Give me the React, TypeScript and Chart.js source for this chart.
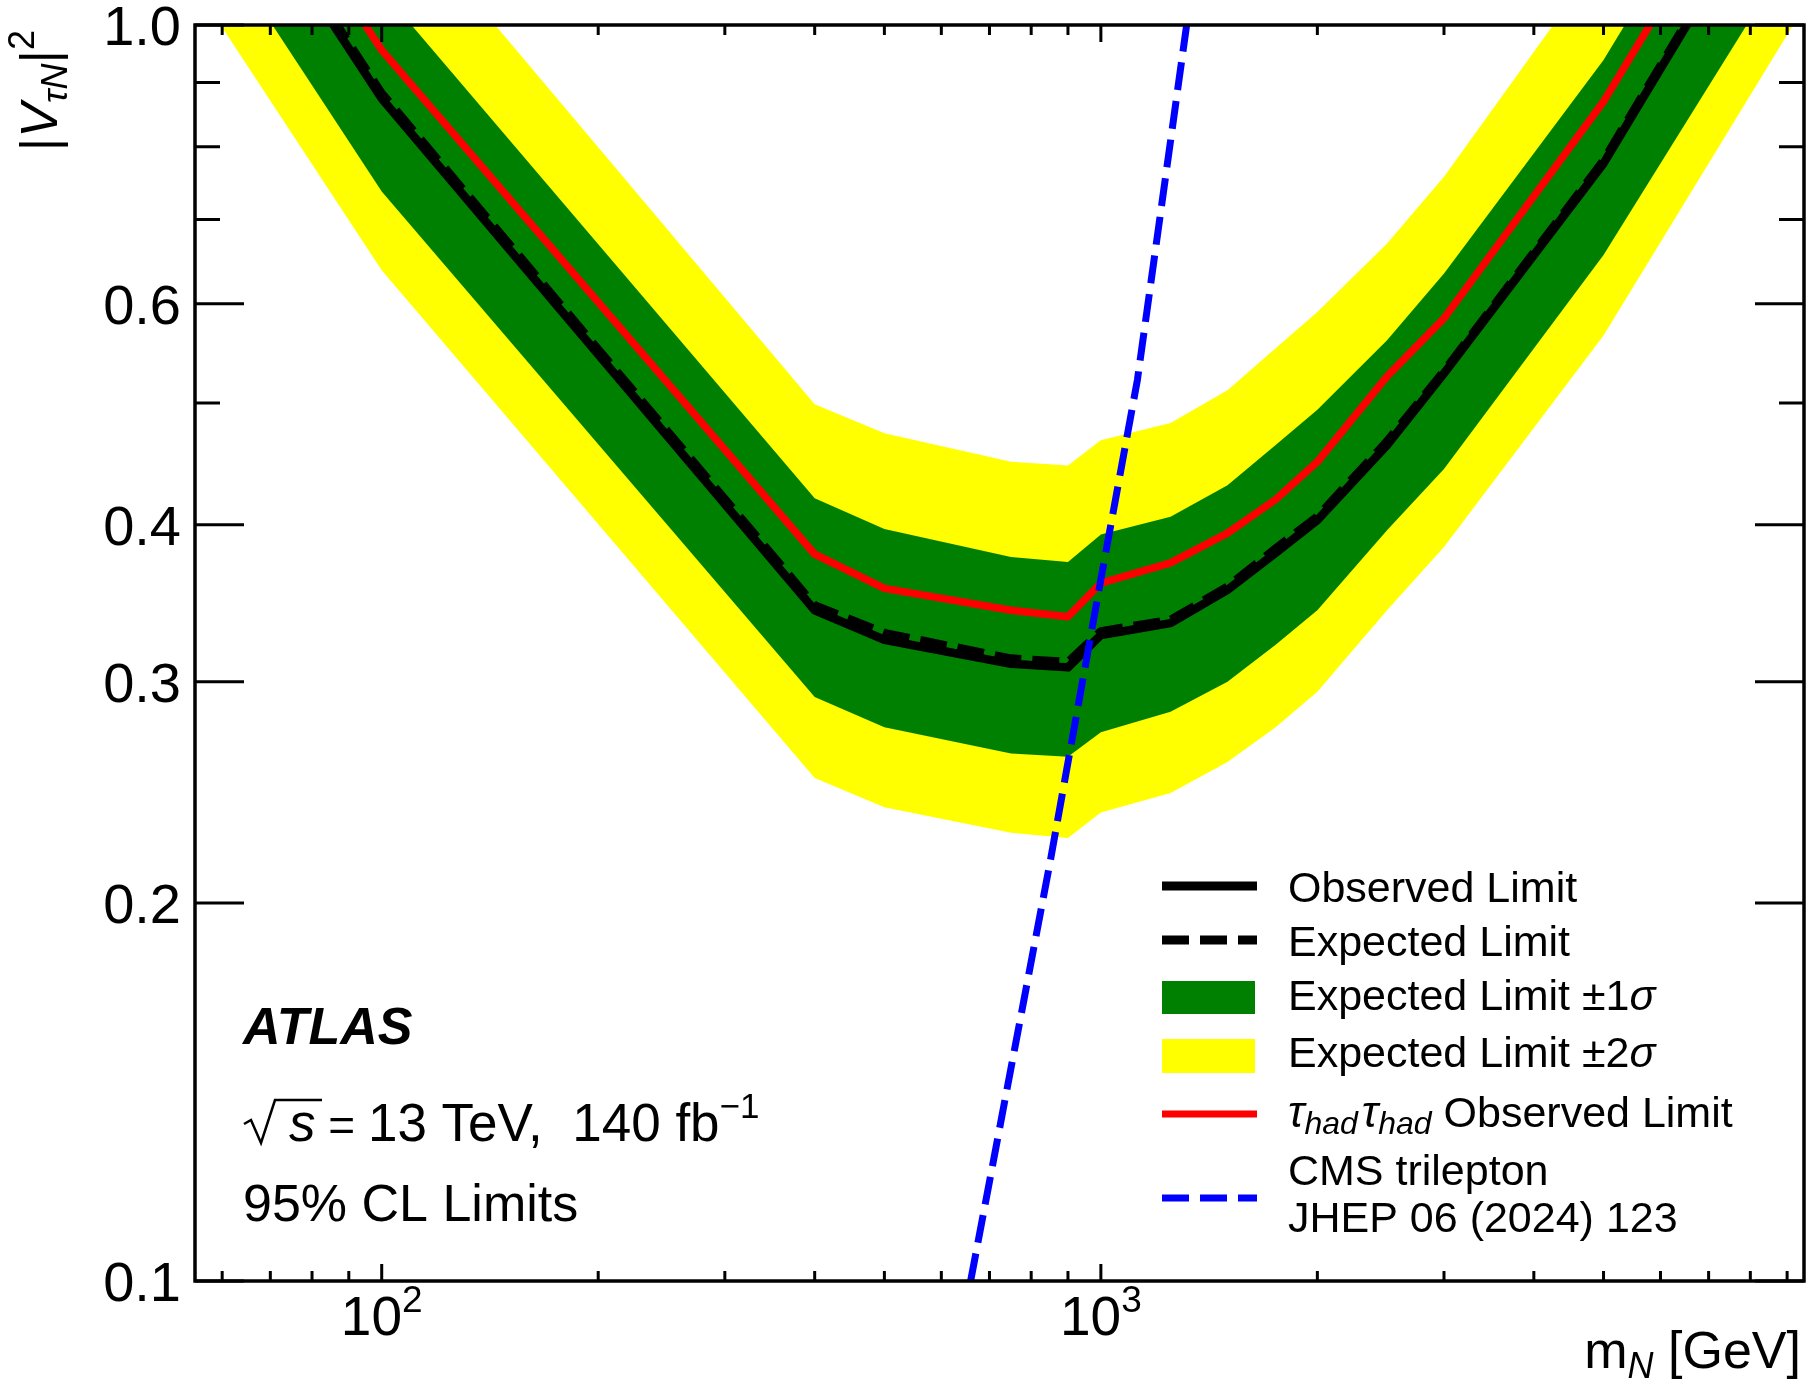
import React, { useRef, useEffect } from 'react';
import { Chart, registerables } from 'chart.js';

// Register all Chart.js components
Chart.register(...registerables);

const W = 1811;
const H = 1387;

// heavy neutral lepton mass points [GeV]
const masses = [50, 100, 400, 500, 750, 900, 1000, 1250, 1500, 1750, 2000, 2500, 3000, 5000, 10000];

// |V_tauN|^2 limits
const observed = [1.6, 0.874, 0.342, 0.324, 0.31, 0.308, 0.3268, 0.334, 0.355, 0.38, 0.4035, 0.463, 0.528, 0.776, 1.5];
const expected = [1.62, 0.882, 0.345, 0.328, 0.313, 0.311, 0.329, 0.336, 0.357, 0.383, 0.406, 0.466, 0.53, 0.78, 1.51];
const plus1 = [1.95, 1.066, 0.42, 0.397, 0.377, 0.3737, 0.393, 0.406, 0.43, 0.463, 0.494, 0.561, 0.634, 0.938, 1.8];
const minus1 = [1.349, 0.737, 0.2917, 0.276, 0.263, 0.2614, 0.2735, 0.284, 0.3, 0.321, 0.342, 0.396, 0.443, 0.656, 1.241];
const plus2 = [2.34, 1.28, 0.499, 0.473, 0.449, 0.446, 0.467, 0.482, 0.512, 0.553, 0.591, 0.67, 0.757, 1.137, 2.18];
const minus2 = [1.167, 0.638, 0.2515, 0.2383, 0.2274, 0.2253, 0.236, 0.2446, 0.259, 0.276, 0.2945, 0.342, 0.384, 0.566, 1.084];
const tauhadObserved = [1.75, 0.955, 0.379, 0.356, 0.342, 0.338, 0.3595, 0.373, 0.394, 0.419, 0.449, 0.525, 0.584, 0.869, 1.674];

// CMS trilepton limit
const cmsMasses = [659, 851, 1000, 1124, 1316];
const cmsLimit = [0.1, 0.2164, 0.362, 0.5216, 1.0];

// axis ticks
const yMajor = [0.1, 0.2, 0.3, 0.4, 0.6, 1.0];
const yMajorLabels = ['0.1', '0.2', '0.3', '0.4', '0.6', '1.0'];
const yMinor = [0.5, 0.7, 0.8, 0.9];
const xMajor = [100, 1000];
const xMajorExp = ['2', '3'];
const xMinor = [60, 70, 80, 90, 200, 300, 400, 500, 600, 700, 800, 900, 2000, 3000, 4000, 5000, 6000, 7000, 8000, 9000];

const FAMILY = '"Liberation Sans", Arial, Helvetica, sans-serif';
const F = (size: number, style = '') => `${style} ${size}px ${FAMILY}`;

type Run = { t: string; f: string; dy?: number };

const runsWidth = (ctx: CanvasRenderingContext2D, runs: Run[]) => {
  let w = 0;
  runs.forEach((r) => {
    ctx.font = r.f;
    w += ctx.measureText(r.t).width;
  });
  return w;
};

const drawRuns = (ctx: CanvasRenderingContext2D, x: number, y: number, runs: Run[]) => {
  let cx = x;
  runs.forEach((r) => {
    ctx.font = r.f;
    ctx.fillText(r.t, cx, y + (r.dy || 0));
    cx += ctx.measureText(r.t).width;
  });
  return cx;
};

const pts = (xs: number[], ys: number[]) => xs.map((x, i) => ({ x, y: ys[i] }));

// frame, inward ticks, labels, texts and legend in ROOT/ATLAS style
const atlasDecor = {
  id: 'atlasDecor',
  afterDraw(chart: any) {
    const ctx: CanvasRenderingContext2D = chart.ctx;
    const { left, right, top, bottom } = chart.chartArea;
    const xs = chart.scales.x;
    const ys = chart.scales.y;
    ctx.save();
    ctx.fillStyle = '#000';
    ctx.strokeStyle = '#000';
    ctx.textBaseline = 'alphabetic';
    ctx.textAlign = 'left';

    // ticks
    ctx.lineWidth = 3;
    ctx.beginPath();
    const yTick = (v: number, len: number) => {
      const py = ys.getPixelForValue(v);
      ctx.moveTo(left, py);
      ctx.lineTo(left + len, py);
      ctx.moveTo(right, py);
      ctx.lineTo(right - len, py);
    };
    yMajor.forEach((v) => yTick(v, 49));
    yMinor.forEach((v) => yTick(v, 25));
    const xTick = (v: number, len: number) => {
      const px = xs.getPixelForValue(v);
      ctx.moveTo(px, bottom);
      ctx.lineTo(px, bottom - len);
      ctx.moveTo(px, top);
      ctx.lineTo(px, top + len);
    };
    xMajor.forEach((v) => xTick(v, 17));
    xMinor.forEach((v) => xTick(v, 10));
    ctx.stroke();

    // frame
    ctx.lineWidth = 3.5;
    ctx.strokeRect(left, top, right - left, bottom - top);

    // y tick labels
    ctx.font = F(56);
    ctx.textAlign = 'right';
    yMajor.forEach((v, i) => {
      ctx.fillText(yMajorLabels[i], 181, ys.getPixelForValue(v) + 20);
    });
    ctx.textAlign = 'left';

    // x tick labels 10^n
    xMajor.forEach((v, i) => {
      const runs: Run[] = [
        { t: '10', f: F(55) },
        { t: xMajorExp[i], f: F(37), dy: -23 },
      ];
      const w = runsWidth(ctx, runs);
      drawRuns(ctx, xs.getPixelForValue(v) - w / 2, 1335, runs);
    });

    // x title
    const xt: Run[] = [
      { t: 'm', f: F(52) },
      { t: 'N', f: F(36, 'italic'), dy: 10 },
      { t: ' [GeV]', f: F(52) },
    ];
    drawRuns(ctx, 1801 - runsWidth(ctx, xt), 1368, xt);

    // y title (rotated)
    const yt: Run[] = [
      { t: '|', f: F(52) },
      { t: 'V', f: F(52, 'italic') },
      { t: 'τN', f: F(36, 'italic'), dy: 10 },
      { t: '|', f: F(52) },
      { t: '2', f: F(36), dy: -23 },
    ];
    ctx.save();
    ctx.translate(57, 30);
    ctx.rotate(-Math.PI / 2);
    drawRuns(ctx, -runsWidth(ctx, yt), 0, yt);
    ctx.restore();

    // ATLAS label block
    ctx.font = F(52, 'italic bold');
    ctx.fillText('ATLAS', 243, 1044);

    // sqrt(s) sign
    ctx.lineWidth = 2.5;
    ctx.beginPath();
    ctx.moveTo(244, 1124);
    ctx.lineTo(251, 1120);
    ctx.lineTo(261, 1143);
    ctx.lineTo(275, 1100);
    ctx.lineTo(322, 1100);
    ctx.stroke();
    const sq: Run[] = [
      { t: 's', f: F(53, 'italic') },
      { t: ' = ', f: F(46) },
      { t: '13 TeV,  140 fb', f: F(53) },
      { t: '\u22121', f: F(35), dy: -23 },
    ];
    drawRuns(ctx, 289, 1141, sq);
    ctx.font = F(52);
    ctx.fillText('95% CL Limits', 243, 1221);

    // legend
    const lx0 = 1162;
    const lx1 = 1257;
    const tx = 1288;
    const lf = F(43);
    const lineSym = (y: number, color: string, width: number, dash: number[]) => {
      ctx.save();
      ctx.strokeStyle = color;
      ctx.lineWidth = width;
      ctx.setLineDash(dash);
      ctx.beginPath();
      ctx.moveTo(lx0, y);
      ctx.lineTo(lx1, y);
      ctx.stroke();
      ctx.restore();
    };
    lineSym(886, '#000000', 9, []);
    ctx.font = lf;
    ctx.fillText('Observed Limit', tx, 902);

    lineSym(940, '#000000', 9, [27, 11]);
    ctx.font = lf;
    ctx.fillText('Expected Limit', tx, 956);

    ctx.fillStyle = '#008000';
    ctx.fillRect(lx0, 981, lx1 - lx0 - 2, 33);
    ctx.fillStyle = '#000';
    drawRuns(ctx, tx, 1010, [
      { t: 'Expected Limit \u00b11', f: lf },
      { t: 'σ', f: F(43, 'italic') },
    ]);

    ctx.fillStyle = '#ffff00';
    ctx.fillRect(lx0, 1039, lx1 - lx0 - 2, 34);
    ctx.fillStyle = '#000';
    drawRuns(ctx, tx, 1067, [
      { t: 'Expected Limit \u00b12', f: lf },
      { t: 'σ', f: F(43, 'italic') },
    ]);

    lineSym(1114, '#ff0000', 7, []);
    drawRuns(ctx, tx, 1127, [
      { t: 'τ', f: F(44, 'italic') },
      { t: 'had', f: F(32, 'italic'), dy: 7 },
      { t: ' ', f: F(14) },
      { t: 'τ', f: F(44, 'italic') },
      { t: 'had', f: F(32, 'italic'), dy: 7 },
      { t: ' Observed Limit', f: lf },
    ]);

    lineSym(1198, '#0000ff', 7, [27, 11]);
    ctx.font = lf;
    ctx.fillText('CMS trilepton', tx, 1185);
    ctx.fillText('JHEP 06 (2024) 123', tx, 1232);

    ctx.restore();
  },
};

const LimitPlot: React.FC = () => {
  const chartRef = useRef<HTMLCanvasElement | null>(null);
  const chartInstance = useRef<Chart | null>(null);

  useEffect(() => {
    if (!chartRef.current) return;

    if (chartInstance.current) {
      chartInstance.current.destroy();
    }

    const ctx = chartRef.current.getContext('2d');
    if (ctx) {
      chartInstance.current = new Chart(ctx, {
        type: 'line',
        data: {
          datasets: [
            {
              label: 'CMS trilepton',
              data: pts(cmsMasses, cmsLimit),
              borderColor: '#0000ff',
              borderWidth: 7,
              borderDash: [28, 11],
              fill: false,
              clip: 0,
            },
            {
              label: 'tau_had tau_had Observed Limit',
              data: pts(masses, tauhadObserved),
              borderColor: '#ff0000',
              borderWidth: 7.5,
              fill: false,
              clip: 0,
            },
            {
              label: 'Observed Limit',
              data: pts(masses, observed),
              borderColor: '#000000',
              borderWidth: 8.5,
              fill: false,
              clip: 0,
            },
            {
              label: 'Expected Limit',
              data: pts(masses, expected),
              borderColor: '#000000',
              borderWidth: 8.5,
              borderDash: [27, 11],
              fill: false,
              clip: 0,
            },
            {
              label: 'Expected Limit +1 sigma',
              data: pts(masses, plus1),
              borderColor: 'rgba(0,0,0,0)',
              borderWidth: 0,
              backgroundColor: '#008000',
              fill: '+1',
              clip: 0,
            },
            {
              label: 'Expected Limit -1 sigma',
              data: pts(masses, minus1),
              borderColor: 'rgba(0,0,0,0)',
              borderWidth: 0,
              fill: false,
              clip: 0,
            },
            {
              label: 'Expected Limit +2 sigma',
              data: pts(masses, plus2),
              borderColor: 'rgba(0,0,0,0)',
              borderWidth: 0,
              backgroundColor: '#ffff00',
              fill: '+1',
              clip: 0,
            },
            {
              label: 'Expected Limit -2 sigma',
              data: pts(masses, minus2),
              borderColor: 'rgba(0,0,0,0)',
              borderWidth: 0,
              fill: false,
              clip: 0,
            },
          ],
        },
        options: {
          animation: false,
          responsive: false,
          events: [],
          layout: { padding: { left: 195, top: 25, right: 7, bottom: 106 } },
          elements: {
            point: { radius: 0 },
            line: { tension: 0, borderJoinStyle: 'round' },
          },
          plugins: {
            legend: { display: false },
            tooltip: { enabled: false },
          },
          scales: {
            x: { type: 'logarithmic', min: 55, max: 9500, display: false },
            y: { type: 'logarithmic', min: 0.1, max: 1.0, display: false },
          },
        },
        plugins: [atlasDecor],
      });
    }

    return () => {
      if (chartInstance.current) {
        chartInstance.current.destroy();
        chartInstance.current = null;
      }
    };
  }, []);

  return (
    <div style={{ position: 'absolute', left: 0, top: 0, width: `${W}px`, height: `${H}px`, background: '#fff' }}>
      <canvas ref={chartRef} width={W} height={H} style={{ display: 'block', width: `${W}px`, height: `${H}px` }}></canvas>
    </div>
  );
};

export default function App() {
  return <LimitPlot />;
}
